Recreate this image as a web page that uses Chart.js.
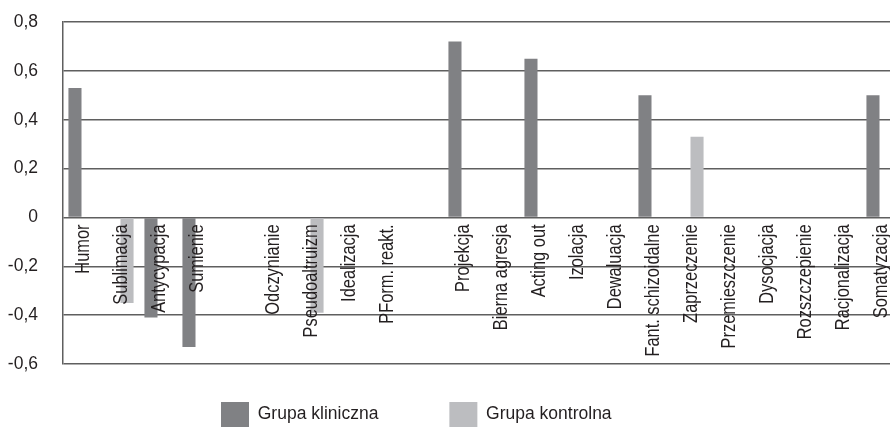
<!DOCTYPE html>
<html>
<head>
<meta charset="utf-8">
<script src="https://cdn.jsdelivr.net/npm/chart.js@4"></script>
<style>
  html, body { margin: 0; padding: 0; background: #fff; overflow: hidden; }
  #wrap { width: 900px; height: 429px; }
</style>
</head>
<body>
<div id="wrap"><canvas id="chart" width="900" height="429"></canvas></div>
<script>
const categories = [
  'Humor', 'Sublimacja', 'Antycypacja', 'Sumienie', '',
  'Odczynianie', 'Pseudoaltruizm', 'Idealizacja', 'PForm. reakt.', '',
  'Projekcja', 'Bierna agresja', 'Acting out', 'Izolacja', 'Dewaluacja',
  'Fant. schizoidalne', 'Zaprzeczenie', 'Przemieszczenie', 'Dysocjacja',
  'Rozszczepienie', 'Racjonalizacja', 'Somatyzacja'
];
const clinical = [0.53, null, -0.41, -0.53, null, null, null, null, null, null,
  0.72, null, 0.65, null, null, 0.50, null, null, null, null, null, 0.50];
const control = [null, -0.35, null, null, null, null, -0.39, null, null, null,
  null, null, null, null, null, null, 0.33, null, null, null, null, null];
const yTicks = [-0.6, -0.4, -0.2, 0, 0.2, 0.4, 0.6, 0.8];

const FONT = "'Liberation Sans', Arial, sans-serif";
const TEXT = '#231f20';
const GRID = '#5f5f5f';

Chart.defaults.font.family = FONT;
Chart.defaults.font.size = 17.5;
Chart.defaults.color = TEXT;

const fmt = v => Math.abs(v) < 1e-9 ? '0' : v.toFixed(1).replace('.', ',');

// category names sit vertically inside the plot, just under the zero line
// (squeezed along the text to look like a narrow face)
const categoryLabels = {
  id: 'categoryLabels',
  afterDatasetsDraw(chart) {
    const {ctx, scales: {x, y}} = chart;
    const top = y.getPixelForValue(0) + 7;
    ctx.save();
    ctx.font = '20px ' + FONT;
    ctx.fillStyle = TEXT;
    ctx.textAlign = 'right';
    ctx.textBaseline = 'alphabetic';
    categories.forEach((name, i) => {
      if (!name) return;
      ctx.save();
      ctx.translate(x.getPixelForValue(i) + 7, top);
      ctx.rotate(-Math.PI / 2);
      ctx.scale(0.82, 1);
      ctx.fillText(name, 0, 0);
      ctx.restore();
    });
    ctx.restore();
  }
};

// move the legend to where it sits in the original figure
const legendPlace = {
  id: 'legendPlace',
  afterLayout(chart) {
    const lg = chart.legend;
    const pad = lg.options.labels.padding;
    lg.left = 221 - pad;
    lg.top = 402 - pad;
  }
};

new Chart(document.getElementById('chart'), {
  type: 'bar',
  data: {
    labels: categories,
    datasets: [{
      label: 'Grupa kliniczna',
      data: clinical,
      backgroundColor: '#808184',
      borderWidth: 0,
      categoryPercentage: 0.74,
      barPercentage: 0.93
    }, {
      label: 'Grupa kontrolna',
      data: control,
      backgroundColor: '#bcbdc0',
      borderWidth: 0,
      categoryPercentage: 0.74,
      barPercentage: 0.93
    }]
  },
  options: {
    responsive: false,
    animation: false,
    layout: {padding: {top: 22, right: 1, left: 0, bottom: 0}},
    plugins: {
      legend: {
        position: 'bottom',
        align: 'start',
        maxHeight: 65,
        labels: {
          boxWidth: 28,
          boxHeight: 25,
          padding: 71,
          color: TEXT
        }
      },
      tooltip: {enabled: false}
    },
    scales: {
      x: {
        display: false
      },
      y: {
        min: -0.6,
        max: 0.8,
        afterBuildTicks: s => { s.ticks = yTicks.map(v => ({value: v})); },
        afterFit: s => {
          s.width = 63;
          s.paddingTop = 0;
          s.paddingBottom = 0;
        },
        ticks: {
          padding: 25,
          color: TEXT,
          callback: v => fmt(v)
        },
        grid: {color: GRID, lineWidth: 1.5, drawTicks: false},
        border: {color: GRID, width: 1.5}
      }
    }
  },
  plugins: [categoryLabels, legendPlace]
});
</script>
</body>
</html>
